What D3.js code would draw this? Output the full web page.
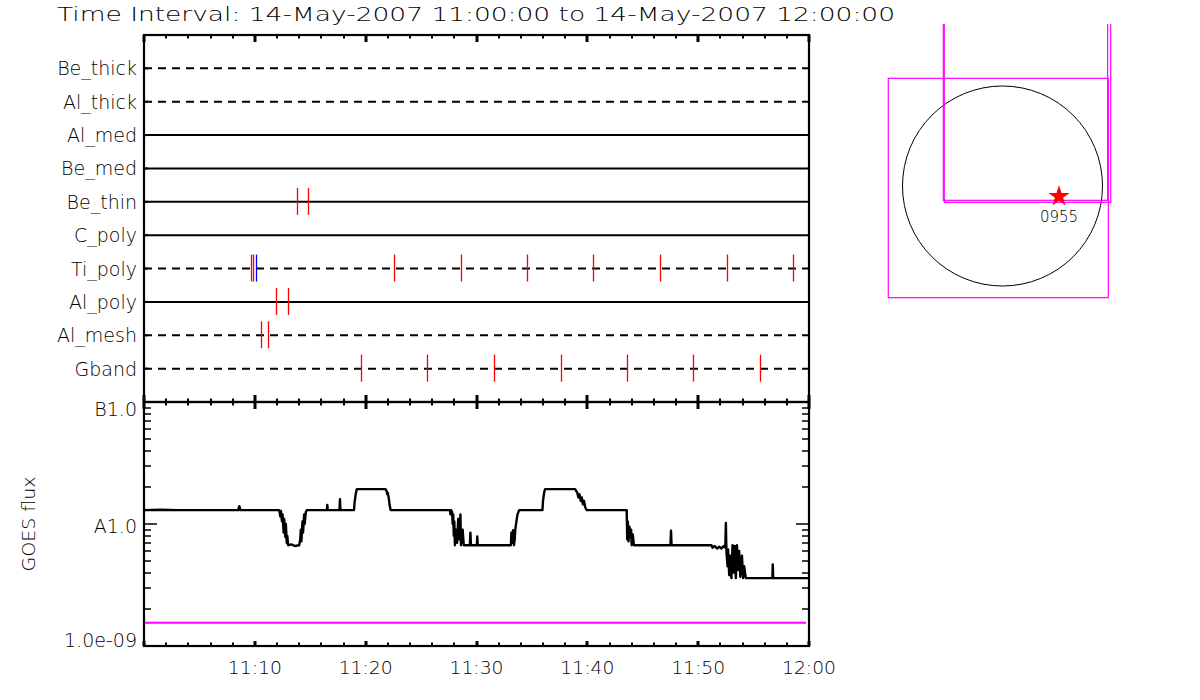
<!DOCTYPE html>
<html>
<head>
<meta charset="utf-8">
<script src="https://cdn.jsdelivr.net/npm/d3@7"></script>
<style>
  body { margin: 0; background: #fff; }
  text { font-family: "DejaVu Sans", sans-serif; font-weight: 200; fill: #000; }
</style>
</head>
<body>
<svg id="chart" width="1200" height="700"></svg>
<script>
const title = "Time Interval: 14-May-2007 11:00:00 to 14-May-2007 12:00:00";

const channels = ["Be_thick", "Al_thick", "Al_med", "Be_med", "Be_thin", "C_poly", "Ti_poly", "Al_poly", "Al_mesh", "Gband"];
const dashedChannels = ["Be_thick", "Al_thick", "Ti_poly", "Al_mesh", "Gband"];

// observations: channel, minutes after 11:00, type (a = red, b = blue)
const obsChannel = ["Be_thin", "Be_thin",
  "Ti_poly", "Ti_poly", "Ti_poly", "Ti_poly", "Ti_poly", "Ti_poly", "Ti_poly", "Ti_poly", "Ti_poly", "Ti_poly",
  "Al_poly", "Al_poly", "Al_mesh", "Al_mesh",
  "Gband", "Gband", "Gband", "Gband", "Gband", "Gband", "Gband"];
const obsMinute = [13.83, 14.82,
  9.68, 9.86, 10.13, 22.58, 28.57, 34.58, 40.54, 46.58, 52.63, 58.58,
  11.94, 13.02, 10.58, 11.22,
  19.6, 25.56, 31.6, 37.6, 43.6, 49.57, 55.6];
const obsType = ["a", "a",
  "a", "a", "b", "a", "a", "a", "a", "a", "a", "a",
  "a", "a", "a", "a",
  "a", "a", "a", "a", "a", "a", "a"];

// GOES flux samples: [minutes after 11:00, W/m^2]
const goesSamples = [
  [0, 1.30e-8], [1.5, 1.31e-8], [3.0, 1.30e-8], [8.5, 1.30e-8], [8.6, 1.40e-8], [8.7, 1.30e-8],
  [12.2, 1.30e-8], [12.3, 1.15e-8], [12.35, 1.28e-8], [12.45, 1.05e-8], [12.5, 1.2e-8], [12.6, 0.85e-8],
  [12.65, 1.1e-8], [12.75, 0.78e-8], [12.8, 1.0e-8], [12.88, 0.7e-8], [12.93, 0.8e-8], [13.0, 0.67e-8],
  [13.3, 0.68e-8], [13.6, 0.66e-8], [14.0, 0.67e-8], [14.1, 0.75e-8], [14.15, 0.9e-8], [14.2, 0.72e-8],
  [14.3, 1.05e-8], [14.35, 0.85e-8], [14.45, 1.2e-8], [14.5, 1.0e-8], [14.6, 1.25e-8], [14.68, 1.30e-8],
  [16.5, 1.30e-8], [16.54, 1.43e-8], [16.58, 1.30e-8], [17.64, 1.30e-8], [17.68, 1.6e-8], [17.72, 1.30e-8],
  [18.95, 1.30e-8], [19.0, 1.5e-8], [19.1, 1.75e-8], [19.2, 1.93e-8],
  [21.8, 1.93e-8], [21.9, 1.85e-8], [21.95, 1.75e-8], [22.0, 1.8e-8], [22.1, 1.6e-8], [22.15, 1.45e-8], [22.25, 1.30e-8],
  [27.6, 1.30e-8], [27.65, 1.2e-8], [27.7, 1.30e-8], [27.8, 1.25e-8], [27.85, 1.0e-8], [27.9, 1.2e-8],
  [27.95, 0.8e-8], [28.0, 1.05e-8], [28.05, 0.67e-8], [28.15, 0.9e-8], [28.25, 0.7e-8], [28.35, 1.1e-8],
  [28.45, 0.75e-8], [28.55, 1.2e-8], [28.6, 0.67e-8], [28.75, 0.9e-8], [28.85, 0.67e-8], [29.4, 0.67e-8],
  [29.45, 0.85e-8], [29.5, 0.67e-8], [30.03, 0.67e-8], [30.07, 0.79e-8], [30.11, 0.67e-8],
  [33.1, 0.67e-8], [33.15, 0.85e-8], [33.2, 0.7e-8], [33.3, 0.89e-8], [33.38, 0.67e-8], [33.45, 0.75e-8],
  [33.5, 0.9e-8], [33.6, 1.05e-8], [33.7, 1.2e-8], [33.85, 1.30e-8],
  [35.95, 1.30e-8], [36.0, 1.55e-8], [36.1, 1.8e-8], [36.18, 1.93e-8],
  [38.9, 1.93e-8], [38.98, 1.88e-8], [39.1, 1.8e-8], [39.2, 1.65e-8], [39.3, 1.75e-8], [39.4, 1.55e-8],
  [39.5, 1.65e-8], [39.6, 1.45e-8], [39.7, 1.55e-8], [39.8, 1.38e-8], [39.94, 1.30e-8],
  [43.55, 1.30e-8], [43.6, 0.75e-8], [43.65, 1.05e-8], [43.72, 0.72e-8], [43.8, 0.95e-8], [43.88, 0.78e-8],
  [43.95, 0.9e-8], [44.0, 0.67e-8], [44.1, 0.82e-8], [44.2, 0.67e-8], [44.3, 0.67e-8],
  [47.5, 0.67e-8], [47.55, 0.88e-8], [47.6, 0.67e-8],
  [51.2, 0.67e-8], [51.3, 0.64e-8], [51.5, 0.66e-8], [51.7, 0.63e-8], [51.9, 0.65e-8], [52.1, 0.63e-8],
  [52.3, 0.66e-8], [52.45, 0.64e-8], [52.5, 1.02e-8], [52.55, 0.6e-8],
  [52.65, 0.45e-8], [52.7, 0.62e-8], [52.8, 0.38e-8], [52.9, 0.55e-8], [53.0, 0.36e-8], [53.1, 0.67e-8],
  [53.2, 0.4e-8], [53.3, 0.66e-8], [53.4, 0.36e-8], [53.5, 0.67e-8], [53.6, 0.42e-8], [53.7, 0.6e-8],
  [53.8, 0.37e-8], [53.95, 0.55e-8], [54.05, 0.36e-8], [54.15, 0.45e-8], [54.3, 0.36e-8],
  [56.7, 0.36e-8], [56.73, 0.467e-8], [56.77, 0.36e-8], [60, 0.36e-8]
];
const goesThreshold = 1.55e-9;

const timeTicks = [10, 20, 30, 40, 50, 60];
const timeLabels = ["11:10", "11:20", "11:30", "11:40", "11:50", "12:00"];
const fluxTicks = [1e-9, 1e-8, 1e-7];
const fluxLabels = ["1.0e-09", "A1.0", "B1.0"];

// inset (arcsec)
const sunRadius = 950;
const fullFov = [-1085, -1061, 1005, 1023];      // x0, y0, x1, y1
const fovA = [-562, -136, 999, 2000];
const fovB = [-553, -155, 1028, 2000];
const flarePos = [537, -100];
const flareLabel = "0955";

const svg = d3.select("#chart");
svg.append("rect").attr("width", 1200).attr("height", 700).attr("fill", "#fff");

const x = d3.scaleLinear().domain([0, 60]).range([144, 809]);
const yRow = d3.scalePoint().domain(channels).range([35, 402]).padding(1);
const yFlux = d3.scaleLog().domain([1e-9, 1e-7]).range([646, 402]);
const obsColor = d3.scaleOrdinal().domain(["a", "b"]).range(["#ff0000", "#0000ff"]);

svg.append("text")
  .attr("x", 57).attr("y", 21)
  .attr("font-size", 20)
  .attr("textLength", 838).attr("lengthAdjust", "spacingAndGlyphs")
  .text(title);

// ---- top panel: channel rows
const topPanel = svg.append("g");

topPanel.selectAll("line.row")
  .data(channels)
  .enter().append("line")
  .attr("x1", x(0)).attr("x2", x(60))
  .attr("y1", d => yRow(d)).attr("y2", d => yRow(d))
  .attr("stroke", "#000").attr("stroke-width", 2)
  .attr("stroke-dasharray", d => dashedChannels.includes(d) ? "8,6" : null);

topPanel.selectAll("line.tickrow")
  .data(channels)
  .enter().append("line")
  .attr("x1", x(0)).attr("x2", x(0) + 4)
  .attr("y1", d => yRow(d)).attr("y2", d => yRow(d))
  .attr("stroke", "#000").attr("stroke-width", 2);

topPanel.selectAll("text.chan")
  .data(channels)
  .enter().append("text")
  .attr("x", 137).attr("y", d => yRow(d) + 7)
  .attr("text-anchor", "end")
  .attr("font-size", 19)
  .text(d => d);

const obs = obsMinute.map((m, i) => ({ m, ch: obsChannel[i], t: obsType[i] }));
topPanel.selectAll("line.obs")
  .data(obs)
  .enter().append("line")
  .attr("x1", d => Math.round(x(d.m)) + 0.5).attr("x2", d => Math.round(x(d.m)) + 0.5)
  .attr("y1", d => yRow(d.ch) - 14).attr("y2", d => yRow(d.ch) + 13)
  .attr("stroke", d => obsColor(d.t)).attr("stroke-width", 1.3);

// ---- bottom panel: GOES
const botPanel = svg.append("g");

botPanel.append("line")
  .attr("x1", x(0)).attr("x2", 806)
  .attr("y1", yFlux(goesThreshold)).attr("y2", yFlux(goesThreshold))
  .attr("stroke", "#ff00ff").attr("stroke-width", 2);

botPanel.append("path")
  .datum(goesSamples)
  .attr("fill", "none")
  .attr("stroke", "#000").attr("stroke-width", 2.4)
  .attr("stroke-linejoin", "round")
  .attr("d", d3.line().x(d => x(d[0])).y(d => yFlux(d[1])));

// flux ticks (both sides)
const fluxAll = yFlux.ticks();
[[x(0), 1], [x(60), -1]].forEach(([px, dir]) => {
  botPanel.selectAll(null)
    .data(fluxAll)
    .enter().append("line")
    .attr("x1", px)
    .attr("x2", d => px + dir * (fluxTicks.includes(d) ? 13 : 7))
    .attr("y1", d => Math.round(yFlux(d))).attr("y2", d => Math.round(yFlux(d)))
    .attr("stroke", "#000").attr("stroke-width", 1.5);
});

botPanel.selectAll("text.flux")
  .data(fluxTicks)
  .enter().append("text")
  .attr("x", 137)
  .attr("y", (d, i) => i === 0 ? yFlux(d) + 1 : i === 2 ? yFlux(d) + 14 : yFlux(d) + 9)
  .attr("text-anchor", "end")
  .attr("font-size", 19)
  .text((d, i) => fluxLabels[i]);

svg.append("text")
  .attr("transform", `translate(35,${(yFlux(1e-9) + yFlux(1e-7)) / 2}) rotate(-90)`)
  .attr("text-anchor", "middle")
  .attr("font-size", 17)
  .attr("textLength", 95).attr("lengthAdjust", "spacingAndGlyphs")
  .text("GOES flux");

// time ticks on the three horizontal axes
const minorT = d3.range(0, 61, 2);
const axesY = [
  { y: 35, dirs: [1] },
  { y: 402, dirs: [-1, 1] },
  { y: 646, dirs: [-1] }
];
axesY.forEach(a => {
  a.dirs.forEach(dir => {
    svg.selectAll(null)
      .data(minorT)
      .enter().append("line")
      .attr("x1", d => Math.round(x(d))).attr("x2", d => Math.round(x(d)))
      .attr("y1", a.y)
      .attr("y2", d => a.y + dir * (d % 10 === 0 ? (a.y === 646 ? 5 : 7) : 3.5))
      .attr("stroke", "#000")
      .attr("stroke-width", d => d % 10 === 0 ? 3 : 2);
  });
});

svg.selectAll("text.time")
  .data(timeTicks)
  .enter().append("text")
  .attr("x", d => x(d)).attr("y", 674)
  .attr("text-anchor", "middle")
  .attr("font-size", 17)
  .attr("textLength", 54).attr("lengthAdjust", "spacingAndGlyphs")
  .text((d, i) => timeLabels[i]);

// frames
[[35, 402], [402, 646]].forEach(([y0, y1]) => {
  svg.append("rect")
    .attr("x", x(0)).attr("y", y0)
    .attr("width", x(60) - x(0)).attr("height", y1 - y0)
    .attr("fill", "none").attr("stroke", "#000").attr("stroke-width", 2.2);
});

// ---- inset: sun and fields of view
const sx = d3.scaleLinear().domain([-sunRadius, sunRadius]).range([902.5, 1102.5]);
const sy = d3.scaleLinear().domain([-sunRadius, sunRadius]).range([286, 86]);

const defs = svg.append("defs");
defs.append("clipPath").attr("id", "insetClip")
  .append("rect").attr("x", 860).attr("y", 24).attr("width", 340).attr("height", 676);

const inset = svg.append("g").attr("clip-path", "url(#insetClip)");

inset.append("circle")
  .attr("cx", sx(0)).attr("cy", sy(0))
  .attr("r", sx(sunRadius) - sx(0))
  .attr("fill", "none").attr("stroke", "#000").attr("stroke-width", 1);

inset.selectAll("rect.fov")
  .data([fullFov, fovA, fovB])
  .enter().append("rect")
  .attr("x", d => sx(d[0])).attr("y", d => sy(d[3]))
  .attr("width", d => sx(d[2]) - sx(d[0]))
  .attr("height", d => sy(d[1]) - sy(d[3]))
  .attr("fill", "none").attr("stroke", "#ff00ff").attr("stroke-width", 1.2);

inset.append("path")
  .attr("transform", `translate(${sx(flarePos[0])},${sy(flarePos[1])})`)
  .attr("d", d3.symbol().type(d3.symbolStar).size(140)())
  .attr("fill", "#ff0000");

inset.append("text")
  .attr("x", sx(flarePos[0])).attr("y", sy(flarePos[1]) + 25)
  .attr("text-anchor", "middle")
  .attr("font-size", 15)
  .text(flareLabel);
</script>
</body>
</html>
